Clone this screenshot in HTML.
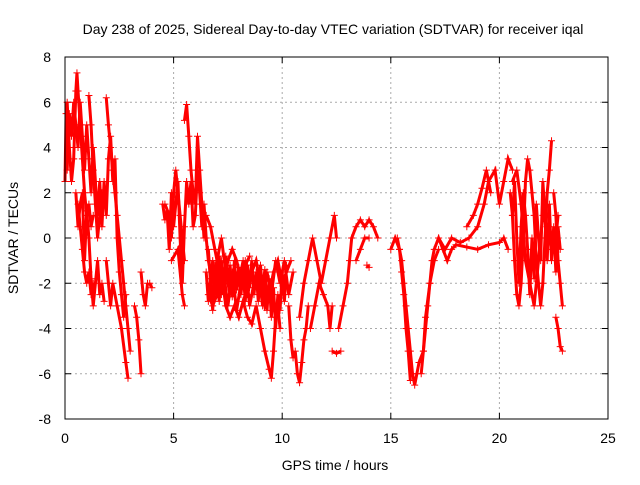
<!DOCTYPE html>
<html><head><meta charset="utf-8">
<style>
body{margin:0;background:#fff;}
svg text{font-family:"Liberation Sans",sans-serif;font-size:14px;fill:#000;}
</style></head>
<body>
<svg id="chart" width="640" height="480">
<text x="333" y="34" text-anchor="middle">Day 238 of 2025, Sidereal Day-to-day VTEC variation (SDTVAR) for receiver iqal</text>
<text x="335" y="470" text-anchor="middle">GPS time / hours</text>
<text transform="translate(18,238) rotate(-90)" text-anchor="middle">SDTVAR / TECUs</text>
<g id="grid"></g><g id="marks"></g>
<rect x="65" y="57" width="543" height="362" fill="none" stroke="#000"/>
</svg>
<script>
const xTicks=[0,5,10,15,20,25];
const yTicks=[-8,-6,-4,-2,0,2,4,6,8];
const trackA=[[0,2.5],[0.05,5.5],[0.1,6],[0.2,4],[0.3,2.5],[0.4,3.5],[0.5,6.5],[0.55,7.3],[0.6,6.5],[0.7,5],[0.8,3.5],[0.9,2],[1.0,1],[1.1,1.5],[1.2,0.5],[1.3,1]];
const trackB=[[0.6,1.5],[0.7,0.5],[0.8,-0.5],[0.9,-1.5],[1.0,-2],[1.1,-1.5],[1.2,-2.5],[1.3,-2]];
const trackC=[[1.1,6.3],[1.2,5],[1.3,3],[1.4,1.5],[1.5,0],[1.6,1],[1.7,2],[1.8,1.5]];
const trackD=[[1.9,6.2],[2.0,5],[2.1,4],[2.2,3],[2.3,2],[2.4,1],[2.5,0],[2.6,-1],[2.7,-2],[2.8,-3],[2.9,-4],[3.0,-5]];
const trackE=[[1.9,-1],[2.0,-2],[2.1,-3],[2.2,-2],[2.4,-3],[2.6,-4],[2.8,-5.5],[2.9,-6.2]];
const trackF=[[3.2,-3],[3.3,-3.5],[3.4,-4.5],[3.5,-6]];
const trackG=[[3.5,-1.5],[3.6,-2.5],[3.7,-3],[3.8,-2]];
const trackH=[[3.9,-2],[4.0,-2.2]];
const trackI=[[4.6,1.5],[4.8,1],[4.9,0],[5.0,2],[5.1,3],[5.3,1],[5.5,-1]];
const trackJ=[[4.9,-1],[5.2,-0.5],[5.4,-2.5],[5.5,-3]];
const trackK=[[5.5,5.2],[5.6,5.9],[5.7,4.5],[5.8,3],[5.9,2],[6.0,1.5],[6.1,4.5],[6.2,3],[6.3,1.5],[6.4,0]];
const trackL=[[6.4,1.5],[6.5,0],[6.6,-1],[6.8,-2],[7.0,-1],[7.2,0],[7.4,-1.5],[7.6,-2.5],[7.8,-1.5],[8.0,-2],[8.2,-1],[8.4,-2.5],[8.6,-1.5],[8.8,-1],[9.0,-2],[9.2,-3],[9.4,-2.5],[9.6,-1.5],[9.8,-1],[10.0,-2],[10.2,-1.5],[10.4,-1]];
const trackM=[[6.6,-2.5],[6.8,-3],[7.0,-2.5],[7.2,-1.5],[7.4,-3],[7.6,-3.5],[7.8,-3],[8.0,-3.5],[8.2,-2.8],[8.4,-3.5],[8.6,-3.8],[8.8,-3],[9.0,-4],[9.2,-5],[9.4,-5.8],[9.5,-6.2],[9.6,-5],[9.7,-3.5],[9.8,-3],[9.9,-4]];
const trackN=[[6.5,1],[6.7,0.5],[6.9,-0.5],[7.1,-1.5],[7.3,-2],[7.5,-1],[7.7,-0.5],[7.9,-1],[8.1,-1.8],[8.3,-1.2],[8.5,-0.8]];
const trackO=[[10.3,-3],[10.4,-4.5],[10.5,-5.3],[10.6,-5],[10.7,-6],[10.8,-6.4],[10.9,-5.5],[11.0,-4.5],[11.1,-4],[11.2,-3]];
const trackP=[[10.8,-3.5],[11.0,-2],[11.2,-1],[11.4,0],[11.6,-1],[11.8,-2],[12.0,-1],[12.2,0],[12.4,1],[12.5,0]];
const trackQ=[[11.3,-4],[11.5,-3],[11.7,-2],[11.9,-2.5],[12.1,-3],[12.2,-4],[12.3,-3]];
const trackR=[[12.3,-5],[12.5,-5.1],[12.7,-5]];
const trackS=[[12.6,-4],[12.8,-3],[13.0,-2],[13.1,-1],[13.2,0],[13.4,0.5],[13.6,0.8],[13.8,0.5],[14.0,0.8],[14.2,0.5],[14.4,0]];
const trackT=[[13.4,-1],[13.6,-0.5],[13.8,0],[14.0,0]];
const trackU=[[13.9,-1.2],[14.0,-1.3]];
const trackV=[[15.0,-0.5],[15.2,0],[15.4,-0.5],[15.5,-1],[15.6,-2],[15.7,-3],[15.8,-4],[15.9,-5],[16.0,-6],[16.1,-6.5],[16.2,-6],[16.3,-5.5],[16.5,-5],[16.6,-4],[16.7,-3],[16.8,-2],[16.9,-1],[17.0,-0.5],[17.2,0],[17.4,-0.5],[17.6,-1],[17.8,-0.5],[18.0,-0.3],[18.5,-0.4],[19.0,-0.5],[19.5,-0.3],[20.0,-0.2],[20.2,0],[20.4,-0.5]];
const trackW=[[15.3,0],[15.4,-0.5],[15.5,-1.5],[15.6,-2.5],[15.7,-4],[15.8,-5],[15.9,-6.3]];
const trackX=[[16.4,-6],[16.5,-5],[16.6,-3.5],[16.8,-2],[17.0,-1],[17.2,-0.5]];
const trackY=[[17.2,0],[17.5,-0.5],[17.8,0],[18.2,-0.2],[18.6,0],[19.0,0.5],[19.3,1.5],[19.5,2.5],[19.8,3],[20.0,1.5],[20.2,2.5],[20.4,3.5],[20.6,3]];
const trackZ=[[18.5,0.5],[18.8,1],[19.0,1.5],[19.2,2.2],[19.4,3],[19.6,2]];
const trackAA=[[20.5,2],[20.6,1],[20.7,-1],[20.8,-2.5],[20.9,-3],[21.0,-2],[21.1,0],[21.2,2.5],[21.3,3.5],[21.4,3],[21.5,2],[21.6,1],[21.7,-1],[21.8,-2],[21.9,-3],[22.0,-2],[22.1,0],[22.2,2],[22.3,3],[22.4,4.3]];
const trackAB=[[20.6,2.5],[20.8,3],[21.0,1.5],[21.2,-1],[21.4,-2],[21.6,-3],[21.8,-1],[22.0,1],[22.2,0.5],[22.4,-0.5],[22.6,0],[22.7,1]];
const trackAC=[[22.5,2],[22.6,1],[22.7,-1],[22.8,-2],[22.9,-3]];
const trackAD=[[22.6,-3.5],[22.7,-4],[22.8,-4.8],[22.9,-5]];
const trackAE=[[6.6,-0.5],[6.7,-2],[6.8,-1],[6.9,-2.5],[7.0,-1.5],[7.1,-2.8],[7.2,-1],[7.3,-2.2],[7.4,-0.8],[7.5,-2],[7.6,-1.2],[7.7,-2.6],[7.8,-1],[7.9,-2.3],[8.0,-1.3],[8.1,-2.5],[8.2,-1.5],[8.3,-2.8],[8.4,-1.2],[8.5,-2.2],[8.6,-1],[8.7,-2.5],[8.8,-1.5],[8.9,-2.8],[9.0,-1.2],[9.1,-2.4],[9.2,-1.4],[9.3,-3.2],[9.4,-1.8],[9.5,-3.5],[9.6,-2.2],[9.7,-4],[9.8,-2.5],[9.9,-3.2],[10.0,-1.5],[10.1,-2.8],[10.2,-1.2]];
const trackAF=[[6.5,-1.5],[6.6,-2.8],[6.7,-1.8],[6.8,-3.2],[6.9,-1.2],[7.0,-2],[7.1,-0.8],[7.2,-2.5],[7.3,-1.5],[7.5,-3],[7.7,-1.5],[7.9,-3.2],[8.1,-2],[8.3,-1],[8.5,-3],[8.7,-2],[8.9,-1.5],[9.1,-3],[9.3,-1.5],[9.5,-2.5],[9.7,-1],[9.9,-2],[10.1,-1],[10.3,-2.5],[10.5,-1.5]];
const trackAG=[[0.1,3],[0.2,5.5],[0.3,4.5],[0.4,6],[0.5,5],[0.6,4],[0.7,6],[0.8,4.5],[0.9,3],[1.0,5],[1.1,3.5],[1.2,2],[1.3,4],[1.4,2.5],[1.5,1],[1.6,2.5],[1.7,0.5],[1.8,2.5],[1.9,1],[2.0,3.5],[2.1,4.5],[2.2,2.5],[2.3,3.5],[2.4,0],[2.5,-1.5],[2.6,-2.5],[2.7,-3.5],[2.8,-2.5]];
const trackAH=[[0.5,2],[0.6,0.5],[0.7,1.5],[0.8,2],[0.9,-1],[1.0,1.2],[1.1,0],[1.2,-1.8],[1.3,-3],[1.4,-2],[1.5,-1],[1.6,-2.5],[1.7,-2],[1.8,-2.8]];
const trackAI=[[20.6,1],[20.7,2.5],[20.8,0],[20.9,-2],[21.0,0.5],[21.1,2],[21.2,1],[21.3,-0.5],[21.4,-2.5],[21.5,0],[21.6,-1.8],[21.7,1.5],[21.8,0],[21.9,-1],[22.0,2.5],[22.1,1],[22.2,-1],[22.3,1.5],[22.4,-1],[22.5,0.5],[22.6,-1.5],[22.7,0.5],[22.8,-0.5]];
const trackAJ=[[5.0,0.5],[5.1,1.5],[5.2,2.5],[5.3,0],[5.4,-2],[5.5,0.5],[5.6,2.5],[5.7,1.5],[5.8,2.5],[5.9,0.5],[6.0,1],[6.1,3],[6.2,2],[6.3,0.5]];
const trackAK=[[4.5,1.5],[4.6,0.8],[4.7,1.2],[4.8,-0.5],[4.9,2],[5.0,1.8]];
const tracks=[trackA,trackB,trackC,trackD,trackE,trackF,trackG,trackH,trackI,trackJ,trackK,trackL,trackM,trackN,trackO,trackP,trackQ,trackR,trackS,trackT,trackU,trackV,trackW,trackX,trackY,trackZ,trackAA,trackAB,trackAC,trackAD,trackAE,trackAF,trackAG,trackAH,trackAI,trackAJ,trackAK];

const NS="http://www.w3.org/2000/svg";
function xs(t){return 65+t/25*543;}
function ys(v){return 419-(v+8)/16*362;}
const grid=document.getElementById('grid');
const marks=document.getElementById('marks');
xTicks.forEach(t=>{
  const x=xs(t);
  if(t>0&&t<25){const l=document.createElementNS(NS,'line');
  l.setAttribute('x1',x);l.setAttribute('x2',x);l.setAttribute('y1',57);l.setAttribute('y2',419);
  l.setAttribute('stroke','#aaa');l.setAttribute('stroke-dasharray','2,3');
  
  
  grid.appendChild(l);}
  const tk=document.createElementNS(NS,'path');
  tk.setAttribute('d',`M${x},419v-6M${x},57v6`);tk.setAttribute('stroke','#000');
  
  
  grid.appendChild(tk);
  const tx=document.createElementNS(NS,'text');
  tx.setAttribute('x',x);tx.setAttribute('y',443);tx.setAttribute('text-anchor','middle');tx.textContent=t;
  
  
  grid.appendChild(tx);
});
yTicks.forEach(v=>{
  const y=ys(v);
  if(v>-8&&v<8){const l=document.createElementNS(NS,'line');
  l.setAttribute('x1',65);l.setAttribute('x2',608);l.setAttribute('y1',y);l.setAttribute('y2',y);
  l.setAttribute('stroke','#aaa');l.setAttribute('stroke-dasharray','2,3');
  
  
  grid.appendChild(l);}
  const tk=document.createElementNS(NS,'path');
  tk.setAttribute('d',`M65,${y}h6M608,${y}h-6`);tk.setAttribute('stroke','#000');
  
  
  grid.appendChild(tk);
  const tx=document.createElementNS(NS,'text');
  tx.setAttribute('x',51);tx.setAttribute('y',y+5);tx.setAttribute('text-anchor','end');tx.textContent=v;
  
  
  grid.appendChild(tx);
});
tracks.forEach(tr=>{
  const pl=document.createElementNS(NS,'polyline');
  pl.setAttribute('points',tr.map(p=>xs(p[0])+','+ys(p[1])).join(' '));
  pl.setAttribute('fill','none');pl.setAttribute('stroke','#f00');pl.setAttribute('stroke-width','3');
  
  
  marks.appendChild(pl);
  tr.forEach(p=>{
    const x=xs(p[0]),y=ys(p[1]);
    const m=document.createElementNS(NS,'path');
    m.setAttribute('d',`M${x-3.5},${y}h7M${x},${y-3.5}v7`);
    m.setAttribute('stroke','#f00');m.setAttribute('stroke-width','1');
    
    
    marks.appendChild(m);
  });
});
</script>
</body></html>
